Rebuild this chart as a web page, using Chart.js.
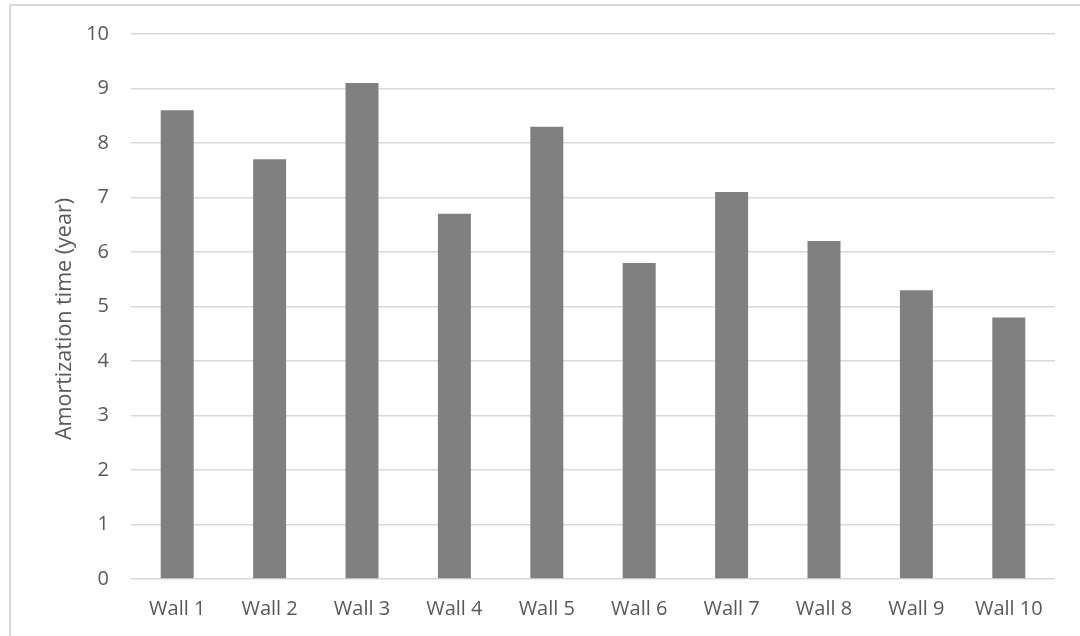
<!DOCTYPE html>
<html>
<head>
<meta charset="utf-8">
<script src="https://cdn.jsdelivr.net/npm/chart.js@4"></script>
<style>
  html, body { margin: 0; padding: 0; background: #fff; }
  #wrap { width: 1080px; height: 636px; position: relative; }
</style>
</head>
<body>
<div id="wrap"><canvas id="amortChart" width="1080" height="636"></canvas></div>
<script>
// ================== data ==================
const wallLabels = ["Wall 1", "Wall 2", "Wall 3", "Wall 4", "Wall 5", "Wall 6", "Wall 7", "Wall 8", "Wall 9", "Wall 10"];
const amortYears = [8.6, 7.7, 9.1, 6.7, 8.3, 5.8, 7.1, 6.2, 5.3, 4.8];
const yTitle = "Amortization time (year)";

// light frame round the chart (only top + left visible)
const framePlugin = {
  id: "frame",
  beforeDraw(chart) {
    const ctx = chart.ctx;
    ctx.save();
    ctx.fillStyle = "#fff";
    ctx.fillRect(0, 0, chart.width, chart.height);
    ctx.strokeStyle = "#d9d9d9";
    ctx.lineWidth = 2;
    ctx.beginPath();
    ctx.moveTo(10, chart.height);
    ctx.lineTo(10, 5);
    ctx.lineTo(chart.width, 5);
    ctx.stroke();
    ctx.restore();
  },
};

// y title, centred a bit lower than chart.js would put it (like the original)
const yTitlePlugin = {
  id: "yTitle",
  afterDraw(chart) {
    const ctx = chart.ctx;
    ctx.save();
    ctx.translate(65, 319);
    ctx.rotate(-Math.PI / 2);
    ctx.fillStyle = "#595959";
    ctx.font = "21.5px 'Open Sans'";
    ctx.textAlign = "center";
    ctx.textBaseline = "middle";
    ctx.fillText(yTitle, 0, 0);
    ctx.restore();
  },
};

const config = {
  type: "bar",
  data: {
    labels: wallLabels,
    datasets: [
      {
        label: "Amortization",
        data: amortYears,
        backgroundColor: "#808080",
        borderWidth: 0,
        barPercentage: 0.357,
        categoryPercentage: 1,
      },
    ],
  },
  options: {
    responsive: false,
    animation: false,
    layout: {
      padding: { left: 46, right: 25, top: 34, bottom: 0 },
    },
    plugins: {
      legend: { display: false },
      tooltip: { enabled: false },
    },
    scales: {
      x: {
        grid: { display: false, drawTicks: false },
        border: { display: false },
        ticks: {
          color: "#595959",
          font: { family: "Open Sans", size: 20 },
          padding: 18,
          maxRotation: 0,
        },
        afterFit(scale) {
          scale.height = 636 - 579;
        },
      },
      y: {
        min: 0,
        max: 10,
        ticks: {
          stepSize: 1,
          color: "#595959",
          font: { family: "Open Sans", size: 20 },
          padding: 22,
        },
        grid: { color: "#d9d9d9", lineWidth: 1.5, drawTicks: false },
        border: { display: false },
        afterFit(scale) {
          scale.width = 131 - 46;
        },
      },
    },
  },
  plugins: [framePlugin, yTitlePlugin],
};

let amortChart = new Chart(document.getElementById("amortChart"), config);
</script>
</body>
</html>
